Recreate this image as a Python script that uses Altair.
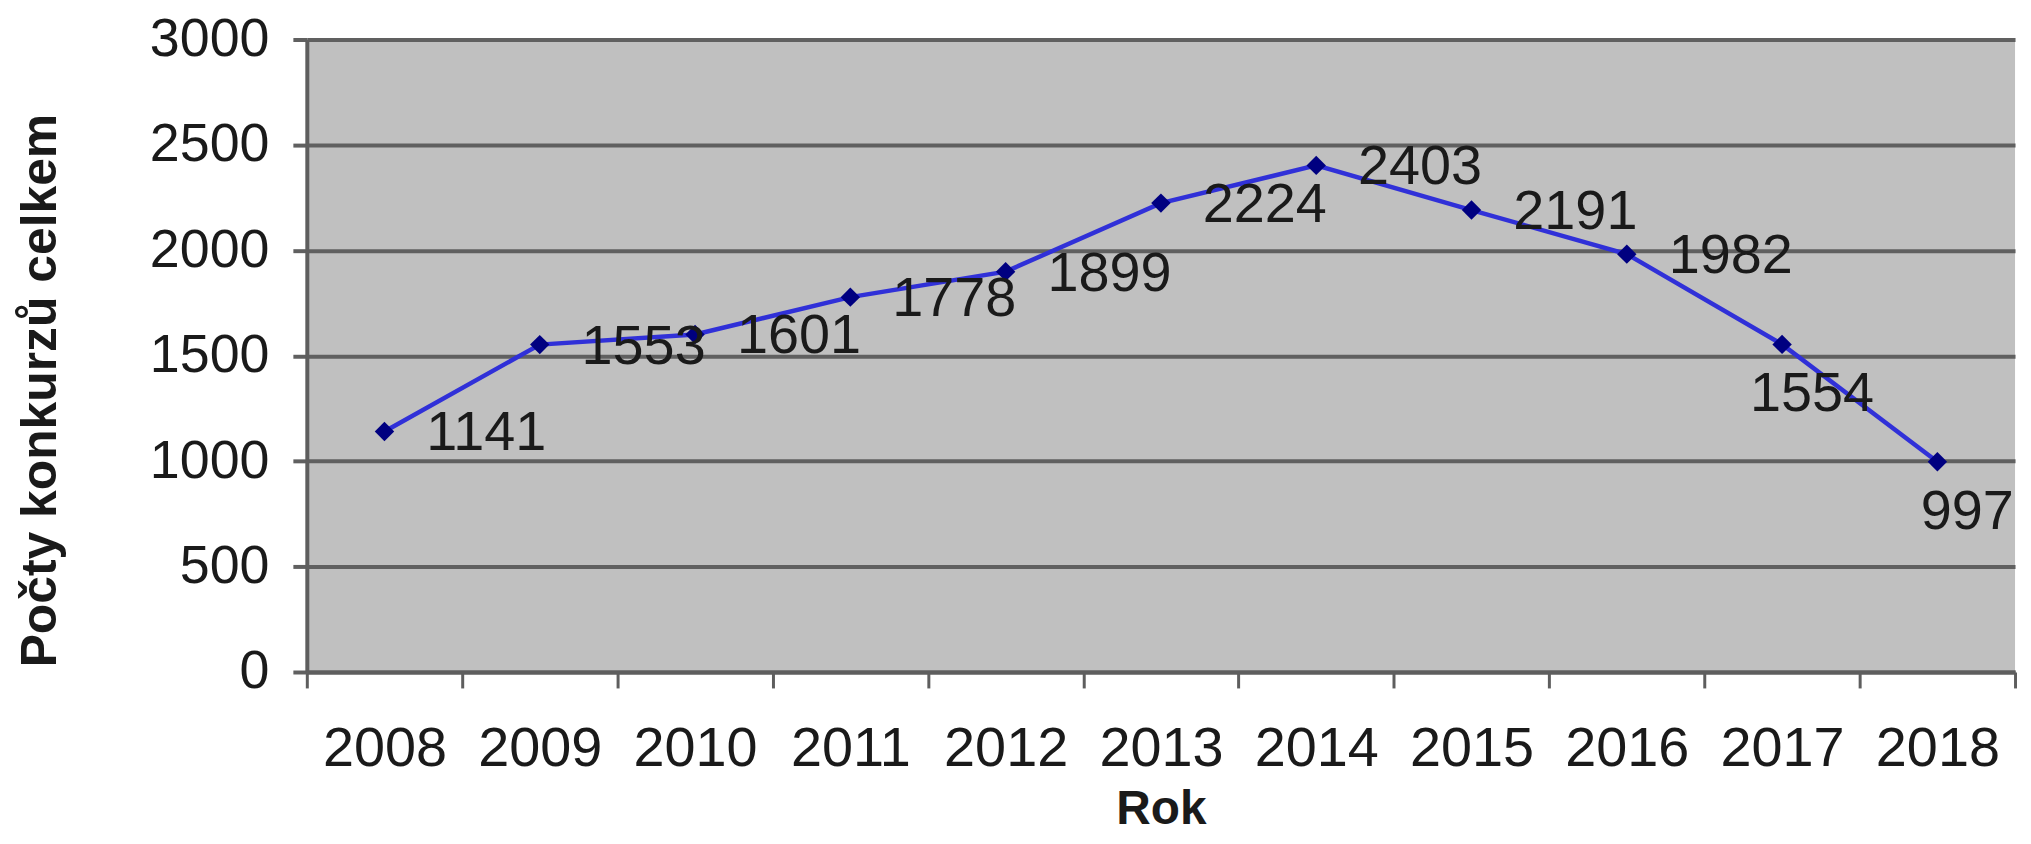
import altair as alt
import pandas as pd

years = ["2008", "2009", "2010", "2011", "2012", "2013", "2014", "2015", "2016", "2017", "2018"]
counts = [1141, 1553, 1601, 1778, 1899, 2224, 2403, 2191, 1982, 1554, 997]
below_years = ["2017", "2018"]
y_ticks = [0, 500, 1000, 1500, 2000, 2500, 3000]

df = pd.DataFrame({"year": years, "count": counts})
df["below"] = df["year"].isin(below_years)

FONT = "Liberation Sans"
TXT = "#1a1a1a"

x_enc = alt.X(
    "year:N",
    sort=years,
    scale=alt.Scale(type="band", paddingInner=0, paddingOuter=0),
    bandPosition=0.5,
    axis=alt.Axis(
        title="Rok",
        tickBand="extent",
        labelAngle=0,
        labelFont=FONT,
        labelFontSize=56,
        labelColor=TXT,
        labelPadding=34,
        titleFont=FONT,
        titleFontSize=48,
        titleFontWeight="bold",
        titleColor=TXT,
        titleBaseline="middle",
        titleY=138,
        domainColor="#5e5e5e",
        domainWidth=4,
        tickColor="#5e5e5e",
        tickWidth=3,
        tickSize=16,
        grid=False,
    ),
)
y_enc = alt.Y(
    "count:Q",
    scale=alt.Scale(domain=[0, 3000], nice=False),
    axis=alt.Axis(
        title="Počty konkurzů celkem",
        values=y_ticks,
        format="d",
        labelFont=FONT,
        labelFontSize=54,
        labelColor=TXT,
        labelPadding=24,
        titleFont=FONT,
        titleFontSize=50,
        titleFontWeight="bold",
        titleColor=TXT,
        titleX=-242,
        titleY=352,
        domainColor="#5e5e5e",
        domainWidth=4,
        tickColor="#606060",
        tickWidth=4,
        tickSize=14,
        grid=True,
        gridColor="#606060",
        gridWidth=4,
    ),
)

base = alt.Chart(df)

line = base.mark_line(color="#3030d8", strokeWidth=4.5).encode(x=x_enc, y=y_enc)
pts = base.mark_point(shape="diamond", filled=True, color="#000080", size=380, opacity=1).encode(
    x=x_enc, y=y_enc
)
labels_right = base.transform_filter("!datum.below").mark_text(
    align="left", baseline="middle", dx=42, dy=2, font=FONT, fontSize=56, color=TXT
).encode(x=x_enc, y=y_enc, text="count:Q")
labels_below = base.transform_filter("datum.below").mark_text(
    align="center", baseline="middle", dx=30, dy=50, font=FONT, fontSize=56, color=TXT
).encode(x=x_enc, y=y_enc, text="count:Q")

chart = (
    alt.layer(line, pts, labels_right, labels_below)
    .properties(
        width=1715,
        height=635,
        autosize=alt.AutoSizeParams(type="none"),
        padding={"left": 300, "top": 30, "right": 8, "bottom": 163},
        background="white",
    )
    .configure_view(fill="#c0c0c0", stroke=None)
)

chart.save("out.html", embed_options={"renderer": "svg", "actions": False})
